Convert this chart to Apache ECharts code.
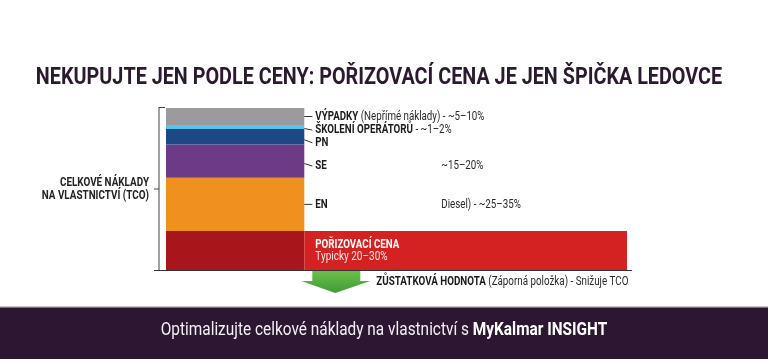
<!DOCTYPE html>
<html>
<head>
<meta charset="utf-8">
<script src="https://cdn.jsdelivr.net/npm/echarts@6/dist/echarts.min.js"></script>
<style>
  html, body { margin: 0; padding: 0; background: #fff; }
  #chart { width: 768px; height: 359px; }
</style>
</head>
<body>
<div id="chart"></div>
<script>
// TCO layers, bottom to top (share of total cost, %)
const layerNames = ['POŘIZOVACÍ CENA', 'EN', 'SE', 'PN', 'ŠKOLENÍ OPERÁTORŮ', 'VÝPADKY'];
const layerShares = [24, 33, 20.5, 9.5, 2.5, 10.5];
const layerNotes = ['Typicky 20–30%', 'Diesel) - ~25–35%', '~15–20%', '', ' - ~1–2%', ' (Nepřímé náklady) - ~5–10%'];

// widths on the x axis: the stacked column and the purchase price bar
const columnWidth = 30;
const priceBarWidth = 100;

const titleText = 'NEKUPUJTE JEN PODLE CENY: POŘIZOVACÍ CENA JE JEN ŠPIČKA LEDOVCE';
const axisLabel = 'CELKOVÉ NÁKLADY\nNA VLASTNICTVÍ (TCO)';
const residualName = 'ZŮSTATKOVÁ HODNOTA';
const residualNote = ' (Záporná položka) - Snižuje TCO';
const footerText = 'Optimalizujte celkové náklady na vlastnictví s ';
const footerBrand = 'MyKalmar INSIGHT';

const FONT = '"Roboto", "Noto Sans", sans-serif';
const NARROW = 0.78; // horizontal squeeze, the original uses a condensed face
const colors = ['#a8151b', '#f0901f', '#6c3a86', '#1d4885', '#5bc4ea', '#9b9b9d'];
const priceColor = '#d42121';
// small vertical nudges for label text (px)
const labelNudge = [0, 0, 5, 6, 3, 0];

// rectangles: [x0, x1, yBottom, yTop, colorIndex]
const rects = [];
let acc = 0;
layerShares.forEach(function (v, i) {
  rects.push([0, columnWidth, acc, acc + v, i]);
  acc += v;
});
rects.push([columnWidth, priceBarWidth, 0, layerShares[0], -1]);
const total = acc;

const chart = echarts.init(document.getElementById('chart'));

function narrowText(x, y, style, sx) {
  return { type: 'text', x: x, y: y, scaleX: sx || NARROW, originX: 0, originY: 0, style: style };
}

function renderRect(params, api) {
  const p0 = api.coord([api.value(0), api.value(3)]);
  const p1 = api.coord([api.value(1), api.value(2)]);
  const ci = api.value(4);
  return {
    type: 'rect',
    shape: { x: p0[0], y: p0[1], width: p1[0] - p0[0], height: p1[1] - p0[1] },
    style: { fill: ci < 0 ? priceColor : colors[ci] }
  };
}

const richLabel = {
  b: { fill: '#1b1b1b', fontFamily: FONT, fontSize: 12.5, fontWeight: 'bold' },
  n: { fill: '#2a2a2a', fontFamily: FONT, fontSize: 12.5 }
};

function renderNotes(params, api) {
  const children = [];
  const colRight = api.coord([columnWidth, 0])[0];
  const colLeft = api.coord([0, 0])[0];
  const base = api.coord([0, 0])[1];
  const top = api.coord([0, total])[1];
  const mid = api.coord([0, total / 2])[1];
  const barRight = api.coord([priceBarWidth, 0])[0];

  let a = 0;
  layerShares.forEach(function (v, i) {
    const ym = api.coord([0, a + v / 2])[1];
    a += v;
    if (i === 0) {
      children.push(narrowText(colRight + 11, ym - 6,
        { text: layerNames[i], fill: '#fff', fontFamily: FONT, fontSize: 13, fontWeight: 'bold', verticalAlign: 'middle' }, 0.75));
      children.push(narrowText(colRight + 11, ym + 6,
        { text: layerNotes[i], fill: '#fbe3e3', fontFamily: FONT, fontSize: 12.5, verticalAlign: 'middle' }, 0.8));
      return;
    }
    const yl = ym + labelNudge[i];
    children.push({
      type: 'line',
      shape: { x1: colRight, y1: (ym + yl) / 2, x2: colRight + 8, y2: yl },
      style: { stroke: '#333', lineWidth: 1 }
    });
    const inline = layerNames[i].length > 2;
    children.push(narrowText(colRight + 11, yl, {
      text: '{b|' + layerNames[i] + '}' + (inline ? '{n|' + layerNotes[i] + '}' : ''),
      verticalAlign: 'middle',
      rich: richLabel
    }));
    if (!inline && layerNotes[i]) {
      children.push(narrowText(colRight + 137, yl,
        { text: layerNotes[i], fill: '#2a2a2a', fontFamily: FONT, fontSize: 12.5, verticalAlign: 'middle' }));
    }
  });

  // bracket and baseline
  const bx = colLeft - 7;
  children.push({ type: 'line', shape: { x1: bx, y1: top - 1, x2: bx, y2: base }, style: { stroke: '#444', lineWidth: 1 } });
  children.push({ type: 'line', shape: { x1: bx, y1: top - 0.5, x2: colLeft - 1, y2: top - 0.5 }, style: { stroke: '#444', lineWidth: 1 } });
  children.push({ type: 'line', shape: { x1: bx - 5, y1: mid, x2: bx, y2: mid }, style: { stroke: '#444', lineWidth: 1 } });
  children.push({ type: 'line', shape: { x1: colLeft - 12, y1: base + 0.5, x2: barRight + 5, y2: base + 0.5 }, style: { stroke: '#333', lineWidth: 1 } });
  children.push(narrowText(bx - 10, mid, {
    text: axisLabel, fill: '#222', fontFamily: FONT, fontSize: 13, fontWeight: 'bold',
    align: 'right', verticalAlign: 'middle', lineHeight: 13
  }, 0.76));

  // residual value arrow
  const ax = colRight;
  children.push({
    type: 'polygon',
    shape: { points: [[ax + 8, base + 1], [ax + 56, base + 1], [ax + 56, base + 11], [ax + 66, base + 11], [ax + 31, base + 23], [ax - 3, base + 11], [ax + 8, base + 11]] },
    style: {
      fill: new echarts.graphic.LinearGradient(0, 0, 0, 1, [
        { offset: 0, color: '#6cbf4b' }, { offset: 1, color: '#3f9c36' }
      ])
    }
  });
  children.push(narrowText(ax + 72, base + 12, {
    text: '{b|' + residualName + '}{n|' + residualNote + '}',
    verticalAlign: 'middle',
    rich: richLabel
  }, 0.785));
  return { type: 'group', children: children };
}

chart.setOption({
  animation: false,
  backgroundColor: '#fff',
  grid: { left: 166, right: 141, top: 108, bottom: 89 },
  xAxis: { type: 'value', min: 0, max: priceBarWidth, show: false },
  yAxis: { type: 'value', min: 0, max: total, show: false },
  graphic: [
    {
      type: 'text', x: 379, y: 78, scaleX: 0.86,
      style: { text: titleText, align: 'center', verticalAlign: 'middle', fill: '#2b1a2f', fontFamily: FONT, fontSize: 23, fontWeight: 'bold' }
    },
    { type: 'rect', left: 0, top: 307, shape: { width: 768, height: 52 }, style: { fill: '#2c1631' } },
    { type: 'rect', left: 0, top: 306, shape: { width: 768, height: 1.5 }, style: { fill: '#c9c4c9' } },
    {
      type: 'text', x: 384, y: 331, scaleX: 0.88,
      style: {
        text: '{n|' + footerText + '}{b|' + footerBrand + '}',
        align: 'center', verticalAlign: 'middle',
        rich: {
          n: { fill: '#f4f0f4', fontFamily: FONT, fontSize: 17.5 },
          b: { fill: '#ffffff', fontFamily: FONT, fontSize: 17.5, fontWeight: 'bold' }
        }
      }
    }
  ],
  series: [
    { type: 'custom', renderItem: renderRect, data: rects, silent: true },
    { type: 'custom', renderItem: renderNotes, data: [[0]], silent: true, z: 5 }
  ]
});
</script>
</body>
</html>
